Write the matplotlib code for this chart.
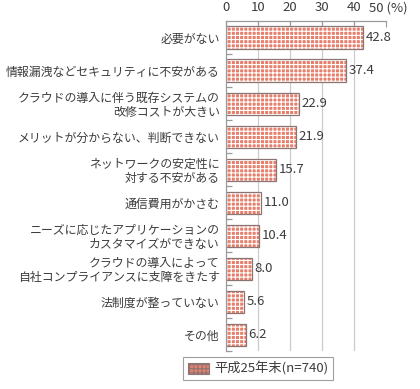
import matplotlib
matplotlib.use('Agg')
from matplotlib import pyplot as plt
from matplotlib.patches import Patch

plt.rcParams['font.family'] = ['Noto Sans CJK JP', 'DejaVu Sans']
plt.rcParams['hatch.linewidth'] = 0.8

labels = ['必要がない',
          '情報漏洩などセキュリティに不安がある',
          'クラウドの導入に伴う既存システムの\n改修コストが大きい',
          'メリットが分からない、判断できない',
          'ネットワークの安定性に\n対する不安がある',
          '通信費用がかさむ',
          'ニーズに応じたアプリケーションの\nカスタマイズができない',
          'クラウドの導入によって\n自社コンプライアンスに支障をきたす',
          '法制度が整っていない',
          'その他']
values = [42.8, 37.4, 22.9, 21.9, 15.7, 11.0, 10.4, 8.0, 5.6, 6.2]
xticks = [0, 10, 20, 30, 40, 50]
series_name = '平成25年末(n=740)'

face = '#e6806c'
edge = '#8c7474'
text_col = '#3c3c3c'
axis_col = '#9a9a9a'

fig = plt.figure(figsize=(4.2, 3.89), dpi=100)
ax = fig.add_axes([0.538, 0.097, 0.381, 0.849])

ypos = list(range(len(values)))
ax.barh(ypos, values, height=0.67, color=face, edgecolor='white', hatch='++++', linewidth=0)
ax.barh(ypos, values, height=0.67, fill=False, edgecolor=edge, linewidth=0.9)

for y, v in zip(ypos, values):
    ax.text(v + 0.8, y, f'{v:.1f}', va='center', ha='left', fontsize=9.5, color=text_col)

ax.set_xlim(0, 50)
ax.set_ylim(len(values) - 0.5, -0.5)

# top axis; the last label carries the unit
ax.xaxis.tick_top()
ax.set_xticks(xticks)
ax.set_xticklabels([str(t) for t in xticks[:-1]] + [''], fontsize=9.5, color=text_col)
ax.tick_params(axis='x', direction='in', length=4, color=axis_col, pad=5)
ax.annotate(f'{xticks[-1]} (%)', xy=(xticks[-1], 1), xycoords=('data', 'axes fraction'),
            xytext=(-12.5, 5), textcoords='offset points', ha='left', va='bottom',
            fontsize=9.5, color=text_col)
ax.grid(axis='x', color='#cccccc', linewidth=0.9)
ax.xaxis.get_gridlines()[-1].set_visible(False)
ax.xaxis.get_gridlines()[0].set_visible(False)
ax.set_axisbelow(True)

ax.set_yticks(ypos)
ax.set_yticklabels(labels, fontsize=8.6, color=text_col, linespacing=1.1)
ax.tick_params(axis='y', which='major', length=0, pad=4.5)
ax.set_yticks([y + 0.5 for y in ypos], minor=True)
ax.tick_params(axis='y', which='minor', direction='in', length=4, color=axis_col, width=0.9)

for s in ['right', 'bottom']:
    ax.spines[s].set_visible(False)
for s in ['top', 'left']:
    ax.spines[s].set_color(axis_col)
    ax.spines[s].set_linewidth(0.9)

handle = Patch(facecolor=face, edgecolor=edge, hatch='++++', linewidth=0.8)
leg = fig.legend([handle], [series_name], loc='lower center', bbox_to_anchor=(0.614, 0.005),
                 fontsize=9.5, frameon=True, fancybox=False, handlelength=1.6, handleheight=0.9,
                 handletextpad=0.4, borderpad=0.35)
leg.get_frame().set_edgecolor('#888888')
leg.get_frame().set_linewidth(0.8)
for t in leg.get_texts():
    t.set_color(text_col)

fig.savefig('out.png', dpi=100)
